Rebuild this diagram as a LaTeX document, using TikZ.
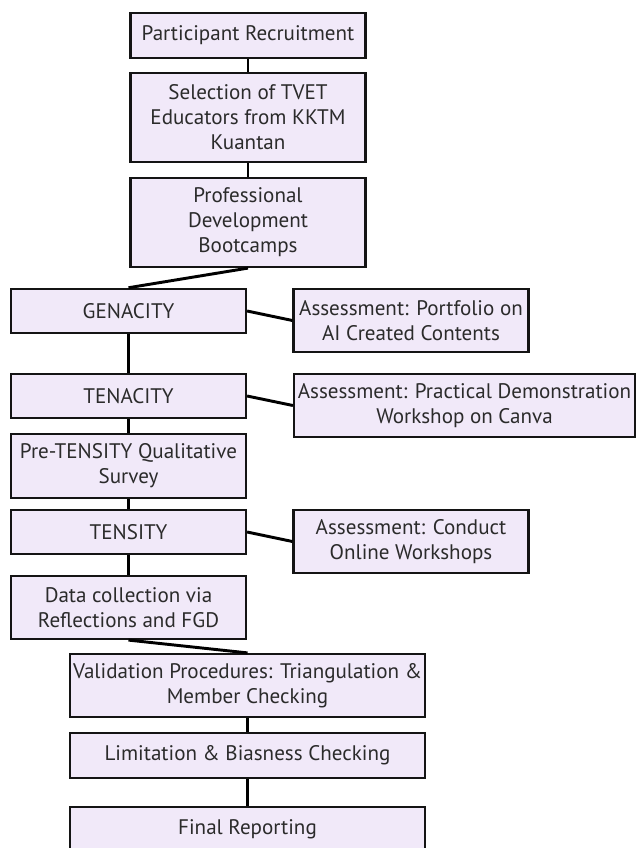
\documentclass[tikz,border=0pt]{standalone}
\usepackage{fontspec}
\setmainfont{PT Sans}
\usepackage{tikz}
\usetikzlibrary{positioning}
\definecolor{lav}{HTML}{F1E9F9}
\definecolor{ink}{HTML}{2B2B2B}

\begin{document}
\begin{tikzpicture}[x=.75pt,y=-.75pt,
  box/.style={draw=black!92,line width=1.9pt,fill=lav,text=ink,align=center,inner sep=0pt,
    font=\fontsize{15.8}{18.8}\selectfont},
  wide/.style={box,minimum width=266pt},
  link/.style={line width=2.2pt,black}]
\useasboundingbox(0,0)rectangle(637,848);
\node[box,minimum width=176pt,minimum height=34pt](rec)at(248,35.5){Participant Recruitment};
\node[box,minimum width=176pt,minimum height=66.5pt](sel)at(248,117.5){Selection of TVET\\Educators from KKTM\\Kuantan};
\node[box,minimum width=176pt,minimum height=66.5pt](boot)at(248,222.5){Professional\\Development\\Bootcamps};
\node[box,minimum width=176pt,minimum height=33pt](gen)at(128.5,311){GENACITY};
\node[box,minimum width=176pt,minimum height=47pt](port)at(411,320.5){Assessment: Portfolio on\\AI Created Contents};
\node[box,minimum width=176pt,minimum height=33pt](ten)at(128.5,396){TENACITY};
\node[box,minimum width=255.5pt,minimum height=47pt](prac)at(464.5,405.5){Assessment: Practical Demonstration\\Workshop on Canva};
\node[box,minimum width=176pt,minimum height=48pt](pre)at(128.5,466){Pre-TENSITY Qualitative\\Survey};
\node[box,minimum width=176pt,minimum height=33pt](tens)at(128.5,532){TENSITY};
\node[box,minimum width=176pt,minimum height=47pt](cond)at(411,541.5){Assessment: Conduct\\Online Workshops};
\node[box,minimum width=176pt,minimum height=47pt](data)at(128.5,607.5){Data collection via\\Reflections and FGD};
\node[wide,minimum height=47pt](val)at(247.5,685.5){Validation Procedures: Triangulation \&\\Member Checking};
\node[wide,minimum height=34pt](lim)at(247.5,755.5){Limitation \& Biasness Checking};
\node[wide,minimum height=33pt](fin)at(247.5,829){Final Reporting};
\draw[link](rec)--(sel);
\draw[link](sel)--(boot);
\draw[link](boot.south)--(gen.north);
\draw[link](gen.east)--(port.west);
\draw[link](gen)--(ten);
\draw[link](ten.east)--(prac.west);
\draw[link](ten)--(pre);
\draw[link](pre)--(tens);
\draw[link](tens.east)--(cond.west);
\draw[link](tens)--(data);
\draw[link](data.south)--(val.north);
\draw[link](val)--(lim);
\draw[link](lim)--(fin);
\end{tikzpicture}
\end{document}
